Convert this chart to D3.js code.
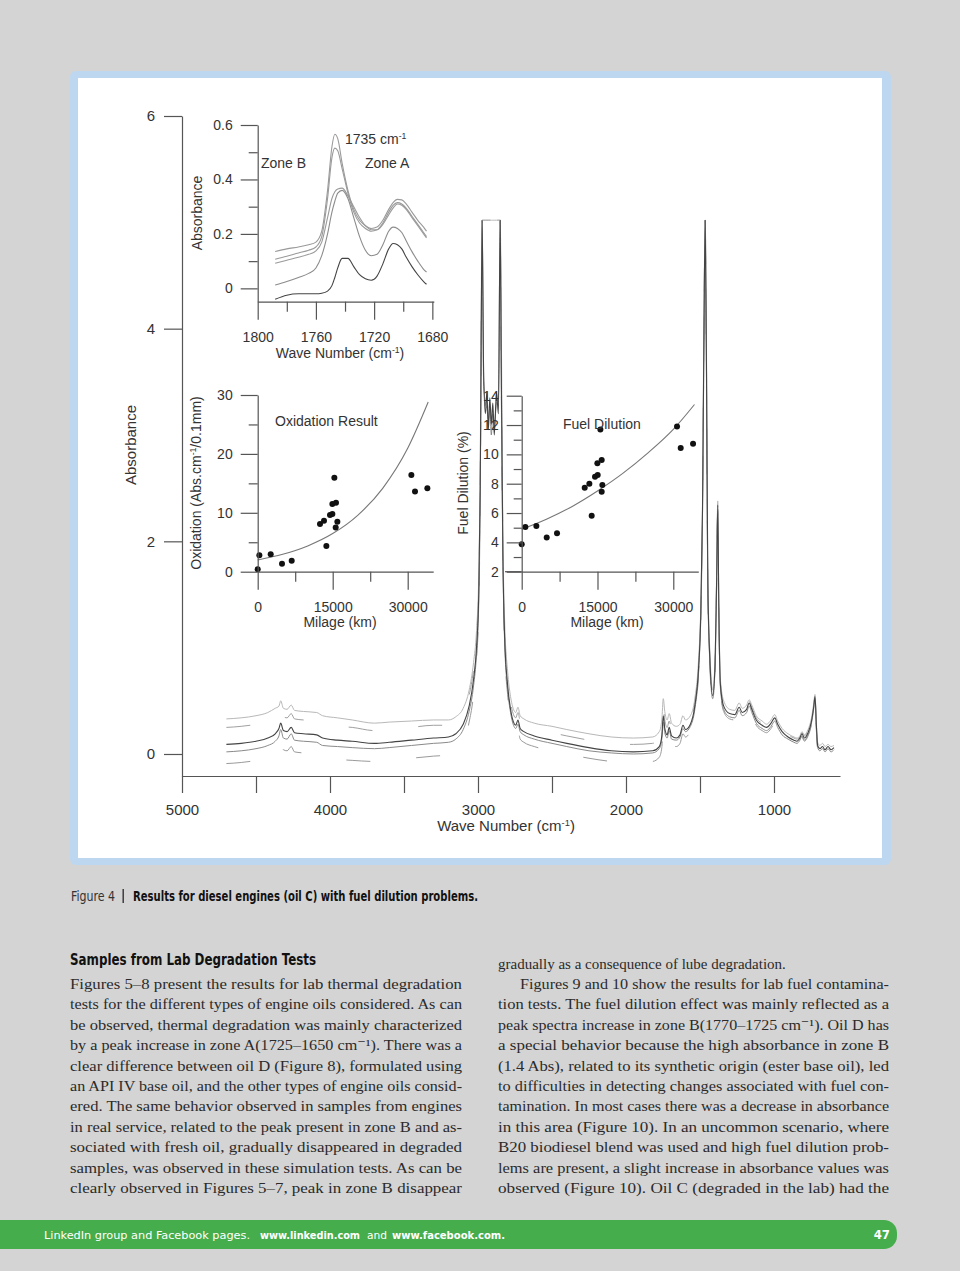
<!DOCTYPE html>
<html><head><meta charset="utf-8">
<script src="https://cdn.jsdelivr.net/npm/d3@7"></script>
<style>
html,body{margin:0;padding:0;background:#d4d4d4;}
svg{display:block;}
</style></head><body>
<svg id="page" width="960" height="1271"></svg>
<script>
// ===== Main spectrum data (wave number, absorbance) =====
const waveNumbers = [
4700,4600,4500,4420,4370,4345,4333,4315,4290,4262,
4240,4180,4090,4050,3950,3850,3700,3600,3450,3300,
3200,3150,3100,3060,3030,3010,2995,2985,2978,2972,
2962,2950,2940,2930,2920,2910,2900,2890,2875,2862,
2850,2842,2832,2820,2800,2780,2760,2745,2730,2715,
2690,2620,2500,2400,2250,2100,1950,1820,1775,1758,
1748,1738,1722,1708,1692,1660,1635,1615,1598,1565,
1535,1510,1495,1483,1473,1465,1457,1447,1432,1414,
1398,1388,1380,1373,1362,1340,1300,1265,1235,1215,
1185,1168,1150,1120,1080,1050,1020,995,975,945,
905,865,845,825,811,795,770,748,732,723,
714,705,690,672,655,635,615,595];
const spectrumTopLight = [
0.33,0.34,0.36,0.39,0.43,0.45,0.50,0.43,0.42,0.46,
0.41,0.40,0.39,0.36,0.34,0.32,0.29,0.30,0.31,0.32,
0.32,0.35,0.43,0.60,0.86,1.16,1.68,2.70,4.30,5.02,
5.02,5.02,5.02,5.02,5.02,5.02,5.02,5.02,5.02,5.02,
5.02,3.90,2.10,1.25,0.78,0.54,0.42,0.39,0.44,0.36,
0.33,0.29,0.26,0.23,0.19,0.16,0.15,0.16,0.21,0.32,
0.52,0.40,0.32,0.38,0.29,0.26,0.28,0.36,0.32,0.36,
0.52,0.88,1.38,2.40,4.15,5.02,3.95,1.70,0.92,0.60,
0.90,1.66,2.38,1.46,0.70,0.50,0.42,0.41,0.48,0.43,
0.46,0.51,0.46,0.36,0.31,0.28,0.32,0.37,0.31,0.24,
0.19,0.16,0.15,0.17,0.21,0.18,0.23,0.33,0.47,0.56,
0.30,0.11,0.08,0.10,0.07,0.09,0.07,0.08];
const spectrumUpperDashed = [
0.25,0.26,0.28,0.31,0.35,0.37,0.42,0.35,0.34,0.38,
0.33,0.32,0.31,0.28,0.26,0.25,0.22,0.23,0.25,0.27,
0.27,0.30,0.38,0.55,0.80,1.10,1.60,2.60,4.15,5.02,
5.02,5.02,5.02,5.02,5.02,5.02,5.02,5.02,5.02,5.02,
5.02,3.70,2.00,1.18,0.72,0.49,0.37,0.34,0.39,0.31,
0.28,0.24,0.20,0.17,0.13,0.10,0.09,0.10,0.14,0.25,
0.44,0.32,0.25,0.31,0.23,0.21,0.23,0.31,0.27,0.32,
0.49,0.84,1.34,2.35,4.08,5.02,3.88,1.65,0.88,0.57,
0.87,1.62,2.36,1.42,0.67,0.47,0.40,0.39,0.46,0.41,
0.44,0.50,0.44,0.34,0.29,0.27,0.31,0.36,0.30,0.23,
0.18,0.15,0.14,0.16,0.20,0.17,0.22,0.32,0.45,0.55,
0.29,0.10,0.07,0.09,0.06,0.08,0.06,0.07];
const spectrumDark = [
0.09,0.10,0.12,0.15,0.19,0.24,0.29,0.22,0.21,0.25,
0.20,0.19,0.18,0.15,0.13,0.12,0.10,0.11,0.13,0.15,
0.16,0.19,0.28,0.45,0.70,1.00,1.50,2.50,4.00,5.02,
3.60,3.20,3.40,3.05,3.35,3.10,3.30,3.00,3.40,3.20,
5.02,3.50,1.90,1.10,0.65,0.42,0.30,0.27,0.32,0.24,
0.21,0.17,0.13,0.10,0.06,0.03,0.02,0.03,0.07,0.17,
0.36,0.24,0.18,0.25,0.17,0.15,0.18,0.27,0.23,0.28,
0.45,0.80,1.30,2.30,4.00,5.02,3.80,1.60,0.85,0.55,
0.85,1.60,2.34,1.40,0.65,0.45,0.38,0.37,0.44,0.39,
0.42,0.48,0.42,0.32,0.27,0.25,0.29,0.34,0.28,0.21,
0.16,0.13,0.12,0.15,0.19,0.15,0.20,0.30,0.44,0.54,
0.28,0.08,0.05,0.07,0.04,0.07,0.04,0.06];
const spectrumMid = [
0.02,0.03,0.05,0.08,0.12,0.17,0.23,0.15,0.14,0.19,
0.13,0.12,0.11,0.08,0.07,0.06,0.05,0.06,0.08,0.10,
0.11,0.14,0.23,0.40,0.64,0.94,1.42,2.40,3.90,5.02,
3.50,3.30,3.25,3.15,3.25,3.00,3.20,3.10,3.30,3.35,
5.02,3.40,1.85,1.05,0.61,0.39,0.27,0.24,0.28,0.21,
0.18,0.14,0.10,0.07,0.03,0.01,0.00,0.01,0.05,0.14,
0.30,0.20,0.15,0.22,0.14,0.13,0.16,0.24,0.21,0.26,
0.42,0.77,1.27,2.25,3.95,5.02,3.75,1.55,0.82,0.52,
0.82,1.55,2.30,1.36,0.62,0.42,0.35,0.34,0.41,0.36,
0.39,0.45,0.39,0.29,0.24,0.22,0.26,0.31,0.25,0.18,
0.14,0.11,0.10,0.13,0.17,0.13,0.18,0.28,0.42,0.52,
0.25,0.06,0.03,0.05,0.02,0.05,0.02,0.04];
const spectrumLowerDashed = [
-0.09,-0.08,-0.06,-0.03,0.01,0.06,0.11,0.04,0.03,0.07,
0.02,0.01,0.00,-0.03,-0.05,-0.06,-0.07,-0.06,-0.04,-0.02,
-0.01,0.03,0.12,0.30,0.56,0.88,1.38,2.35,3.85,5.02,
5.02,5.02,5.02,5.02,5.02,5.02,5.02,5.02,5.02,5.02,
5.02,3.30,1.80,1.00,0.56,0.33,0.21,0.18,0.22,0.14,
0.11,0.07,0.03,0.00,-0.04,-0.07,-0.08,-0.07,-0.03,0.06,
0.22,0.12,0.08,0.15,0.08,0.07,0.10,0.19,0.16,0.22,
0.40,0.75,1.25,2.20,3.90,5.02,3.70,1.50,0.78,0.50,
0.80,1.52,2.28,1.34,0.60,0.40,0.33,0.32,0.39,0.34,
0.37,0.43,0.37,0.27,0.22,0.20,0.24,0.29,0.23,0.16,
0.12,0.09,0.08,0.11,0.16,0.12,0.17,0.27,0.41,0.50,
0.23,0.05,0.02,0.04,0.01,0.03,0.01,0.03];
const mainXTicks = [5000,4500,4000,3500,3000,2500,2000,1500,1000];
const mainXLabels = [5000,4000,3000,2000,1000];
const mainYTicks = [0,2,4,6];

// ===== Inset 1: carbonyl zone (wave number, absorbance) =====
const zoneWaves = [1788,1780,1772,1765,1760,1756,1752,1749,1747,1745,1742,1738,1734,1730,1726,1722,1718,1714,1710,1707,1704,1701,1698,1694,1690,1686,1684];
const zoneLineA = [0.135,0.145,0.152,0.16,0.17,0.21,0.36,0.52,0.566,0.55,0.46,0.36,0.29,0.25,0.23,0.22,0.225,0.25,0.29,0.315,0.327,0.325,0.31,0.28,0.25,0.225,0.21];
const zoneLineB = [0.107,0.118,0.13,0.14,0.152,0.19,0.33,0.48,0.515,0.505,0.44,0.35,0.28,0.24,0.22,0.21,0.215,0.24,0.28,0.305,0.315,0.31,0.295,0.265,0.235,0.205,0.19];
const zoneLineC = [0.092,0.103,0.114,0.125,0.138,0.17,0.26,0.33,0.355,0.365,0.368,0.34,0.30,0.26,0.23,0.215,0.215,0.235,0.27,0.295,0.31,0.305,0.29,0.26,0.23,0.20,0.185];
const zoneLineD = [0.012,0.025,0.04,0.055,0.075,0.12,0.20,0.28,0.32,0.35,0.36,0.33,0.26,0.19,0.14,0.12,0.125,0.16,0.21,0.225,0.22,0.205,0.175,0.135,0.10,0.07,0.06];
const zoneLineE = [-0.04,-0.025,-0.02,-0.02,-0.02,-0.018,-0.01,0.01,0.04,0.075,0.11,0.11,0.08,0.05,0.035,0.03,0.045,0.09,0.145,0.165,0.16,0.145,0.115,0.08,0.05,0.025,0.015];
const zoneXTicks = [1800,1780,1760,1740,1720,1700,1680];
const zoneXLabels = [1800,1760,1720,1680];
const zoneYTicks = [0,0.1,0.2,0.3,0.4,0.5,0.6];
const zoneYLabels = [0,0.2,0.4,0.6];

// ===== Inset 2: oxidation vs milage =====
const oxMilage = [0,330,2600,4860,6800,12460,13260,13730,14460,14930,14930,15330,15660,15600,15930,30730,31460,33930];
const oxValue  = [0.4,2.8,2.95,1.36,1.87,8.1,8.66,4.36,9.63,9.8,11.5,15.96,11.7,7.5,8.5,16.4,13.6,14.15];
const oxFitMilage = [0,5000,10000,15000,20000,25000,30000,34100];
const oxFitValue  = [2.0,2.96,4.38,6.47,9.57,14.16,20.95,28.8];
const oxXTicks = [0,7500,15000,22500,30000];
const oxXLabels = [0,15000,30000];
const oxYTicks = [0,5,10,15,20,25,30];
const oxYLabels = [0,10,20,30];

// ===== Inset 3: fuel dilution vs milage =====
const fdMilage = [0,725,2900,4950,6990,12470,13390,13850,14510,15040,14975,15830,15570,15830,15960,30740,31470,33910];
const fdValue  = [3.87,5.05,5.12,4.34,4.62,7.73,8.0,5.82,8.48,8.59,9.39,9.61,11.7,7.45,7.91,11.9,10.43,10.73];
const fdFitMilage = [0,5000,10000,15000,20000,25000,30000,34200];
const fdFitValue  = [4.9,5.6,6.45,7.5,8.7,10.1,11.7,13.4];
const fdXTicks = [0,7500,15000,22500,30000];
const fdXLabels = [0,15000,30000];
const fdYTicks = [2,3,4,5,6,7,8,9,10,11,12,13,14];
const fdYLabels = [2,4,6,8,10,12,14];

// ===== Page text =====
const captionLead = "Figure 4";
const captionText = "Results for diesel engines (oil C) with fuel dilution problems.";
const heading = "Samples from Lab Degradation Tests";
const col1 = [
"Figures 5–8 present the results for lab thermal degradation",
"tests for the different types of engine oils considered. As can",
"be observed, thermal degradation was mainly characterized",
"by a peak increase in zone A(1725–1650 cm⁻¹). There was a",
"clear difference between oil D (Figure 8), formulated using",
"an API IV base oil, and the other types of engine oils consid-",
"ered. The same behavior observed in samples from engines",
"in real service, related to the peak present in zone B and as-",
"sociated with fresh oil, gradually disappeared in degraded",
"samples, was observed in these simulation tests. As can be",
"clearly observed in Figures 5–7, peak in zone B disappear"];
const col2 = [
"gradually as a consequence of lube degradation.",
"Figures 9 and 10 show the results for lab fuel contamina-",
"tion tests. The fuel dilution effect was mainly reflected as a",
"peak spectra increase in zone B(1770–1725 cm⁻¹). Oil D has",
"a special behavior because the high absorbance in zone B",
"(1.4 Abs), related to its synthetic origin (ester base oil), led",
"to difficulties in detecting changes associated with fuel con-",
"tamination. In most cases there was a decrease in absorbance",
"in this area (Figure 10). In an uncommon scenario, where",
"B20 biodiesel blend was used and high fuel dilution prob-",
"lems are present, a slight increase in absorbance values was",
"observed (Figure 10). Oil C (degraded in the lab) had the"];
const footerParts = ["LinkedIn group and Facebook pages.", "www.linkedin.com", "and", "www.facebook.com."];
const pageNumber = "47";

// ================= DRAWING =================
const svg = d3.select("#page");
const SANS = "'Liberation Sans', Arial, sans-serif";
const NARROW = "'Liberation Sans Narrow','DejaVu Sans Condensed','Liberation Sans',sans-serif";
const SERIF = "'Liberation Serif','DejaVu Serif',serif";
const AX = "#555";
const TXT = "#333";
const fmtInt = d3.format("d");

svg.append("rect").attr("width",960).attr("height",1271).attr("fill","#d4d4d4");
svg.append("rect").attr("x",70).attr("y",71).attr("width",821).attr("height",794).attr("rx",6).attr("fill","#bdd7f0");
svg.append("rect").attr("x",78).attr("y",78).attr("width",804).attr("height",780).attr("fill","#ffffff");

function styleAxis(g, fontSize){
  g.select(".domain").attr("stroke",AX).attr("stroke-width",1.2);
  g.selectAll(".tick line").attr("stroke",AX).attr("stroke-width",1.2);
  g.selectAll(".tick text").attr("fill",TXT).attr("font-family",SANS).attr("font-size",fontSize);
}
function minorize(g, majors, horizontal, len){
  g.selectAll(".tick").filter(d => !majors.includes(d)).each(function(){
    const t = d3.select(this);
    t.select("text").remove();
    if (horizontal) t.select("line").attr("y2", len); else t.select("line").attr("x2", -len);
  });
}
function label(txt, x, yb, size, anchor){
  return svg.append("text").attr("x",x).attr("y",yb).attr("font-family",SANS)
    .attr("font-size",size).attr("fill",TXT).attr("text-anchor",anchor||"start").text(txt);
}
function labelSup(pre, sup, post, x, yb, size, anchor, rotate){
  const t = svg.append("text").attr("font-family",SANS).attr("font-size",size).attr("fill",TXT)
    .attr("text-anchor",anchor||"start");
  if (rotate) t.attr("transform",`translate(${x},${yb}) rotate(-90)`);
  else t.attr("x",x).attr("y",yb);
  t.append("tspan").text(pre);
  t.append("tspan").attr("baseline-shift","super").attr("font-size",size*0.62).text(sup);
  if (post) t.append("tspan").text(post);
  return t;
}

// ---------- Main chart ----------
const x = d3.scaleLinear().domain([5000, 554]).range([182, 840]);
const y = d3.scaleLinear().domain([-0.207, 6]).range([776, 116]);

const line = d3.line().x(d => x(d[0])).y(d => y(d[1])).curve(d3.curveMonotoneX);
const series = [
  {v: spectrumLowerDashed, c:"#9a9a9a", dash:"24,46", w:1},
  {v: spectrumMid, c:"#8a8a8a", dash:null, w:1},
  {v: spectrumUpperDashed, c:"#a0a0a0", dash:"24,46", w:1},
  {v: spectrumTopLight, c:"#b8b8b8", dash:null, w:1},
  {v: spectrumDark, c:"#444444", dash:null, w:1.1}
];
series.forEach(s => {
  svg.append("path").datum(waveNumbers.map((w,i)=>[w, s.v[i]]))
    .attr("d", line).attr("fill","none").attr("stroke",s.c).attr("stroke-width",s.w)
    .attr("stroke-dasharray", s.dash).attr("stroke-linejoin","round");
});

const gx = svg.append("g").attr("transform","translate(0,776)")
  .call(d3.axisBottom(x).tickValues(mainXTicks).tickSize(17).tickSizeOuter(0).tickPadding(11)
    .tickFormat(d => mainXLabels.includes(d) ? fmtInt(d) : ""));
styleAxis(gx, 15);
const gy = svg.append("g").attr("transform","translate(182,0)")
  .call(d3.axisLeft(y).tickValues(mainYTicks).tickSize(18).tickSizeOuter(0).tickPadding(9).tickFormat(fmtInt));
styleAxis(gy, 15);
labelSup("Wave Number (cm", "-1", ")", 506, 831, 15, "middle");
svg.append("text").attr("transform","translate(136,445) rotate(-90)").attr("text-anchor","middle")
  .attr("font-family",SANS).attr("font-size",15).attr("fill",TXT).text("Absorbance");

// ---------- Inset 1: zones ----------
const x1 = d3.scaleLinear().domain([1800, 1679]).range([257.7, 433.8]);
const y1 = d3.scaleLinear().domain([-0.049, 0.6]).range([301.7, 125]);
const line1 = d3.line().x(d => x1(d[0])).y(d => y1(d[1])).curve(d3.curveMonotoneX);
[[zoneLineA,"#9a9a9a"],[zoneLineB,"#9a9a9a"],[zoneLineC,"#9a9a9a"],[zoneLineD,"#8c8c8c"],[zoneLineE,"#444"]].forEach(([v,c])=>{
  svg.append("path").datum(zoneWaves.map((w,i)=>[w,v[i]])).attr("d",line1)
    .attr("fill","none").attr("stroke",c).attr("stroke-width",1.1);
});
const g1x = svg.append("g").attr("transform","translate(0,301.7)")
  .call(d3.axisBottom(x1).tickValues(zoneXTicks).tickSize(18).tickSizeOuter(0).tickPadding(12).tickFormat(fmtInt));
styleAxis(g1x, 14); minorize(g1x, zoneXLabels, true, 10);
const g1y = svg.append("g").attr("transform","translate(257.7,0)")
  .call(d3.axisLeft(y1).tickValues(zoneYTicks).tickSize(17).tickSizeOuter(0).tickPadding(8)
    .tickFormat(d => d === 0 ? "0" : d3.format(".1f")(d)));
styleAxis(g1y, 14); minorize(g1y, zoneYLabels, false, 9);
labelSup("Wave Number (cm", "-1", ")", 340, 358, 14, "middle");
svg.append("text").attr("transform","translate(202,213) rotate(-90)").attr("text-anchor","middle")
  .attr("font-family",SANS).attr("font-size",14).attr("fill",TXT).text("Absorbance");
label("Zone B", 261, 168, 14);
label("Zone A", 365, 168, 14);
labelSup("1735 cm", "-1", null, 345, 144, 14, "start");

// ---------- Inset 2: oxidation ----------
const x2 = d3.scaleLinear().domain([0, 35100]).range([257.7, 433.2]);
const y2 = d3.scaleLinear().domain([0, 30]).range([571.7, 395]);
svg.append("path").datum(oxFitMilage.map((m,i)=>[m,oxFitValue[i]]))
  .attr("d", d3.line().x(d=>x2(d[0])).y(d=>y2(d[1])).curve(d3.curveMonotoneX))
  .attr("fill","none").attr("stroke","#777").attr("stroke-width",1.1);
svg.append("g").selectAll("circle").data(oxMilage.map((m,i)=>[m,oxValue[i]])).join("circle")
  .attr("cx",d=>x2(d[0])).attr("cy",d=>y2(d[1])).attr("r",3).attr("fill","#111");
const g2x = svg.append("g").attr("transform","translate(0,571.7)")
  .call(d3.axisBottom(x2).tickValues(oxXTicks).tickSize(18).tickSizeOuter(0).tickPadding(12).tickFormat(fmtInt));
styleAxis(g2x, 14); minorize(g2x, oxXLabels, true, 10);
const g2y = svg.append("g").attr("transform","translate(257.7,0)")
  .call(d3.axisLeft(y2).tickValues(oxYTicks).tickSize(17).tickSizeOuter(0).tickPadding(8).tickFormat(fmtInt));
styleAxis(g2y, 14); minorize(g2y, oxYLabels, false, 9);
label("Milage (km)", 340, 627, 14, "middle");
labelSup("Oxidation (Abs.cm", "-1", "/0.1mm)", 201, 483, 14, "middle", true);
label("Oxidation Result", 275, 426, 14);

// ---------- Inset 3: fuel dilution ----------
const x3 = d3.scaleLinear().domain([0, 34950]).range([521.7, 698.3]);
const y3 = d3.scaleLinear().domain([2, 14]).range([571.7, 395.7]);
svg.append("path").datum(fdFitMilage.map((m,i)=>[m,fdFitValue[i]]))
  .attr("d", d3.line().x(d=>x3(d[0])).y(d=>y3(d[1])).curve(d3.curveMonotoneX))
  .attr("fill","none").attr("stroke","#777").attr("stroke-width",1.1);
svg.append("g").selectAll("circle").data(fdMilage.map((m,i)=>[m,fdValue[i]])).join("circle")
  .attr("cx",d=>x3(d[0])).attr("cy",d=>y3(d[1])).attr("r",3).attr("fill","#111");
const g3x = svg.append("g").attr("transform","translate(0,571.7)")
  .call(d3.axisBottom(x3).tickValues(fdXTicks).tickSize(18).tickSizeOuter(0).tickPadding(12).tickFormat(fmtInt));
styleAxis(g3x, 14); minorize(g3x, fdXLabels, true, 10);
svg.append("line").attr("x1",505).attr("x2",521.7).attr("y1",571.7).attr("y2",571.7).attr("stroke",AX).attr("stroke-width",1.2);
const g3y = svg.append("g").attr("transform","translate(521.7,0)")
  .call(d3.axisLeft(y3).tickValues(fdYTicks).tickSize(15).tickSizeOuter(0).tickPadding(8).tickFormat(fmtInt));
styleAxis(g3y, 14); minorize(g3y, fdYLabels, false, 8);
label("Milage (km)", 607, 627, 14, "middle");
svg.append("text").attr("transform","translate(468,483) rotate(-90)").attr("text-anchor","middle")
  .attr("font-family",SANS).attr("font-size",14).attr("fill",TXT).text("Fuel Dilution (%)");
label("Fuel Dilution", 563, 429, 14);

// ---------- Caption ----------
svg.append("text").attr("x",71).attr("y",901).attr("font-family",NARROW).attr("font-size",14)
  .attr("fill","#333").attr("textLength",44).attr("lengthAdjust","spacingAndGlyphs").text(captionLead);
svg.append("rect").attr("x",122.5).attr("y",889).attr("width",1.4).attr("height",14).attr("fill","#333");
svg.append("text").attr("x",133).attr("y",901).attr("font-family",NARROW).attr("font-size",14)
  .attr("font-weight","bold").attr("fill","#111").attr("textLength",345)
  .attr("lengthAdjust","spacingAndGlyphs").text(captionText);

// ---------- Body text ----------
svg.append("text").attr("x",70).attr("y",965).attr("font-family",NARROW).attr("font-size",16)
  .attr("font-weight","bold").attr("fill","#111").attr("textLength",246)
  .attr("lengthAdjust","spacingAndGlyphs").text(heading);
const lh = 20.4;
col1.forEach((t,i)=>{
  svg.append("text").attr("x",70).attr("y",989 + i*lh).attr("font-family",SERIF).attr("font-size",15)
    .attr("fill","#2b2b2b").attr("textLength",392).attr("lengthAdjust","spacingAndGlyphs").text(t);
});
col2.forEach((t,i)=>{
  const tx = svg.append("text").attr("y",968.6 + i*lh).attr("font-family",SERIF).attr("font-size",15)
    .attr("fill","#2b2b2b").text(t);
  if (i === 0) { tx.attr("x",498); }
  else if (i === 1) { tx.attr("x",520).attr("textLength",369).attr("lengthAdjust","spacingAndGlyphs"); }
  else { tx.attr("x",498).attr("textLength",391).attr("lengthAdjust","spacingAndGlyphs"); }
});

// ---------- Footer ----------
svg.append("rect").attr("x",-20).attr("y",1220).attr("width",917).attr("height",29).attr("rx",13).attr("fill","#45ad4b");
const footerPos = [[44,206,"normal"],[260,100,"bold"],[367,20,"normal"],[392,113,"bold"]];
footerParts.forEach((t,i)=>{
  svg.append("text").attr("x",footerPos[i][0]).attr("y",1238.5).attr("font-family",NARROW).attr("font-size",11)
    .attr("font-weight",footerPos[i][2]).attr("fill","#fff").attr("textLength",footerPos[i][1])
    .attr("lengthAdjust","spacingAndGlyphs").text(t);
});
svg.append("text").attr("x",890).attr("y",1239).attr("text-anchor","end").attr("font-family",NARROW)
  .attr("font-size",13).attr("font-weight","bold").attr("fill","#fff").text(pageNumber);
</script>
</body></html>
